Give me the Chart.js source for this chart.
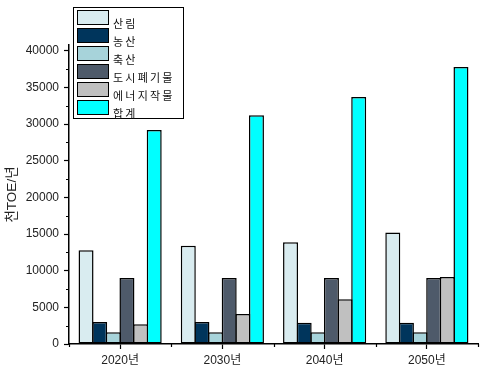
<!DOCTYPE html>
<html>
<head>
<meta charset="utf-8">
<script src="https://cdn.jsdelivr.net/npm/chart.js@4.4.1/dist/chart.umd.min.js"></script>
<style>
    html, body { margin: 0; padding: 0; background: #fff; }
    #wrap { position: relative; width: 488px; height: 374px; }
    #chart { position: absolute; left: 0; top: 0; }
    .lg-frame { position: absolute; border: 1.5px solid #000; box-sizing: border-box; }
    .lg-box { position: absolute; width: 32px; height: 15px; border: 1.5px solid #000; box-sizing: border-box; }
    .lg-text { position: absolute; height: 15px; line-height: 15px; font: 11px "Noto Sans CJK KR", sans-serif;
               letter-spacing: 2.2px; color: #111; white-space: nowrap; }
</style>
</head>
<body>
<div id="wrap">
    <canvas id="chart" width="488" height="374"></canvas>
</div>
<script>
// Chart data
const categories = ['2020년', '2030년', '2040년', '2050년'];
const seriesNames = ['산림', '농산', '축산', '도시폐기물', '에너지작물', '합계'];
const forest = [12800, 13400, 13900, 15200];
const agriculture = [3000, 3000, 2900, 2900];
const livestock = [1600, 1600, 1600, 1600];
const urbanWaste = [9000, 9000, 9000, 9000];
const energyCrops = [2700, 4100, 6100, 9150];
const total = [29200, 31200, 33700, 37800];
const yTickValues = [0, 5000, 10000, 15000, 20000, 25000, 30000, 35000, 40000];
const yMinorTicks = [2500, 7500, 12500, 17500, 22500, 27500, 32500, 37500];

const seriesValues = [forest, agriculture, livestock, urbanWaste, energyCrops, total];
const seriesColors = ['#d9ecf0', '#00355c', '#a7d3da', '#4e5a6a', '#c0c0c0', '#00ffff'];

const FONT = '"Liberation Sans", "Noto Sans CJK KR", sans-serif';

// Extra tick marks: short minor ticks on y, category boundary ticks on x
const extraTicks = {
    id: 'extraTicks',
    afterDraw(chart) {
        const ctx = chart.ctx;
        const x = chart.scales.x;
        const y = chart.scales.y;
        ctx.save();
        ctx.strokeStyle = '#000';
        ctx.lineWidth = 1.2;
        ctx.beginPath();
        yMinorTicks.forEach(v => {
            const py = Math.round(y.getPixelForValue(v)) + 0.5;
            ctx.moveTo(y.right - 3, py);
            ctx.lineTo(y.right, py);
        });
        for (let i = 0; i <= categories.length; i++) {
            const px = Math.round(x.getPixelForValue(i - 0.5)) + 0.5;
            ctx.moveTo(px, x.top);
            ctx.lineTo(px, x.top + 3);
        }
        ctx.stroke();
        ctx.restore();
    }
};

function buildLegend() {
    const wrap = document.getElementById('wrap');
    const frame = document.createElement('div');
    frame.className = 'lg-frame';
    Object.assign(frame.style, { left: '72.5px', top: '6.5px', width: '111px', height: '112px' });
    wrap.appendChild(frame);

    seriesNames.forEach((name, i) => {
        const top = 10 + i * 18;
        const box = document.createElement('div');
        box.className = 'lg-box';
        Object.assign(box.style, { left: '77px', top: top + 'px', background: seriesColors[i] });
        wrap.appendChild(box);

        const label = document.createElement('div');
        label.className = 'lg-text';
        Object.assign(label.style, { left: '113px', top: (top + 5) + 'px' });
        label.textContent = name;
        wrap.appendChild(label);
    });
}

function createChart() {
    // bars overlap slightly so neighbouring borders merge into one line
    const datasets = seriesNames.map((name, i) => ({
        label: name,
        data: seriesValues[i],
        backgroundColor: seriesColors[i],
        borderColor: '#000',
        borderWidth: 1.5,
        borderSkipped: false,
        categoryPercentage: 0.8,
        barPercentage: 1.1
    }));

    new Chart(document.getElementById('chart'), {
        type: 'bar',
        data: { labels: categories, datasets },
        options: {
            responsive: false,
            animation: false,
            layout: { padding: { top: 45, right: 10, bottom: 0, left: 0 } },
            plugins: {
                legend: { display: false },
                tooltip: { enabled: false }
            },
            scales: {
                x: {
                    afterFit(scale) { scale.height = 30; },
                    grid: {
                        display: true,
                        drawOnChartArea: false,
                        drawTicks: true,
                        offset: false,
                        tickLength: 5,
                        tickColor: '#000',
                        tickWidth: 1.2
                    },
                    border: { display: true, color: '#000', width: 1.5 },
                    ticks: {
                        padding: 4,
                        color: '#222',
                        font: { family: FONT, size: 12 }
                    }
                },
                y: {
                    min: 0,
                    max: 40800,
                    afterFit(scale) { scale.width = 69; },
                    afterBuildTicks(scale) {
                        scale.ticks = yTickValues.map(v => ({ value: v }));
                    },
                    grid: {
                        display: true,
                        drawOnChartArea: false,
                        drawTicks: true,
                        tickLength: 5,
                        tickColor: '#000',
                        tickWidth: 1.2
                    },
                    border: { display: true, color: '#000', width: 1.5 },
                    ticks: {
                        padding: 5,
                        color: '#222',
                        font: { family: FONT, size: 12 },
                        callback: v => String(v)
                    },
                    title: {
                        display: true,
                        text: '천TOE/년',
                        color: '#222',
                        font: { family: FONT, size: 13.5 },
                        padding: { top: 4, bottom: 0 }
                    }
                }
            }
        },
        plugins: [extraTicks]
    });
}

buildLegend();
createChart();
</script>
</body>
</html>
